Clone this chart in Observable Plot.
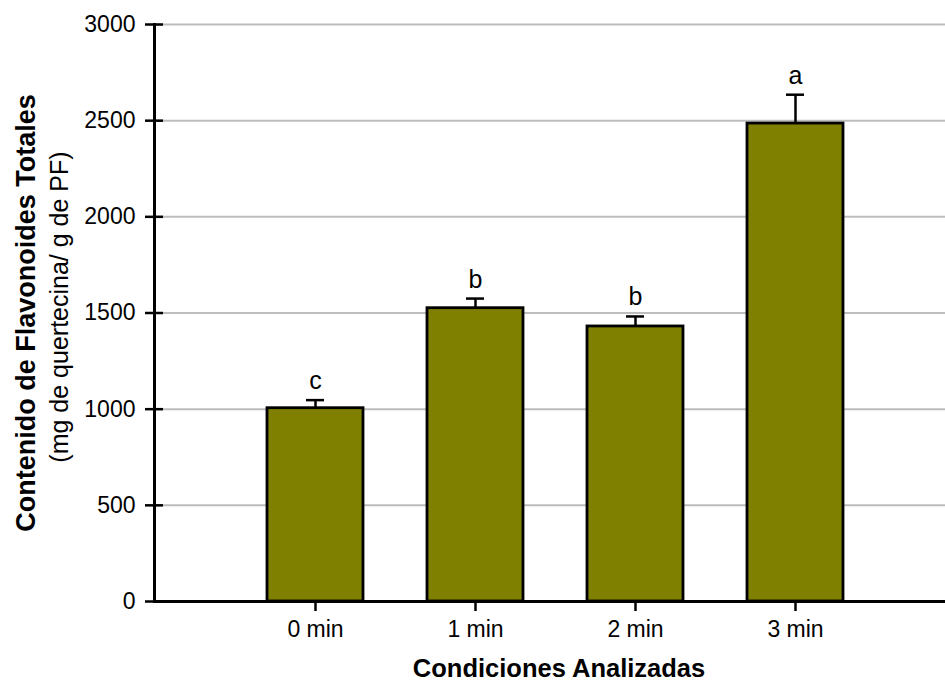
<!DOCTYPE html>
<html>
<head>
<meta charset="utf-8">
<script src="https://cdn.jsdelivr.net/npm/d3@7"></script>
<script src="https://cdn.jsdelivr.net/npm/@observablehq/plot@0.6"></script>
<style>
  html, body { margin: 0; padding: 0; background: #fff; }
  #chart { width: 945px; height: 686px; }
</style>
</head>
<body>
<div id="chart"></div>
<script>
const categories = ["0 min", "1 min", "2 min", "3 min"];
const values = [1005, 1525, 1430, 2485];
const errors = [42, 50, 52, 150];
const letters = ["c", "b", "b", "a"];
const yTicks = [0, 500, 1000, 1500, 2000, 2500, 3000];

const data = categories.map((c, i) => ({cat: c, v: values[i], e: errors[i], top: values[i] + errors[i], letter: letters[i]}));

const font = "Liberation Sans, Arial, Helvetica, sans-serif";

const chart = Plot.plot({
  width: 945,
  height: 686,
  marginLeft: 154,
  marginRight: 0,
  marginTop: 24,
  marginBottom: 85,
  style: {fontFamily: font, fontSize: "23px", background: "#fff", color: "#000"},
  x: {type: "band", domain: categories, range: [235, 875], paddingInner: 0.4, paddingOuter: 0.2, label: null},
  y: {domain: [0, 3000], ticks: yTicks, label: null},
  marks: [
    Plot.gridY(yTicks.slice(1), {stroke: "#bdbdbd", strokeOpacity: 1, strokeWidth: 2}),
    Plot.ruleX(data, {x: "cat", y1: "v", y2: "top", stroke: "#000", strokeWidth: 2.5}),
    Plot.tickY(data, {x: "cat", y: "top", stroke: "#000", strokeWidth: 2.5, insetLeft: 39, insetRight: 39}),
    Plot.barY(data, {x: "cat", y: "v", fill: "#7f7f00", stroke: "#000", strokeWidth: 2.8}),
    Plot.text(data, {x: "cat", y: "top", text: "letter", lineAnchor: "bottom", dy: -11, fontSize: 25, fill: "#000"}),
    Plot.ruleY([0], {stroke: "#000", strokeWidth: 3}),
    Plot.frame({anchor: "left", stroke: "#000", strokeWidth: 3}),
    Plot.axisY(yTicks, {tickSize: 18, dx: 9, stroke: "#000", strokeWidth: 2.5, tickFormat: () => "", label: null}),
    Plot.axisY(yTicks, {tickSize: 0, tickPadding: 19, fontSize: 23, fill: "#000", tickFormat: d => String(d), label: null}),
    Plot.axisX(categories, {tickSize: 10, stroke: "#000", strokeWidth: 2.5, tickPadding: 9, fontSize: 23, fill: "#000", label: null}),
    Plot.text(["Condiciones Analizadas"], {frameAnchor: "bottom", lineAnchor: "middle", textAnchor: "middle", dx: 9, dy: 67, fontSize: 25.5, fontWeight: "bold", fill: "#000"}),
    Plot.text(["Contenido de Flavonoides Totales"], {frameAnchor: "left", textAnchor: "middle", lineAnchor: "middle", dx: -128, rotate: -90, fontSize: 27, fontWeight: "bold", fill: "#000"}),
    Plot.text(["(mg de quertecina/ g de PF)"], {frameAnchor: "left", textAnchor: "middle", lineAnchor: "middle", dx: -95, dy: -6, rotate: -90, fontSize: 25, fill: "#000"})
  ]
});
document.getElementById("chart").appendChild(chart);
</script>
</body>
</html>
